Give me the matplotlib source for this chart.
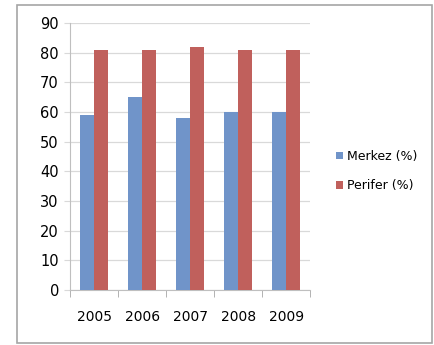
import matplotlib.pyplot as plt
import numpy as np
from matplotlib.patches import Rectangle

years = ["2005", "2006", "2007", "2008", "2009"]
merkez = [59, 65, 58, 60, 60]
perifer = [81, 81, 82, 81, 81]

blue = "#7094C9"
red = "#C0605C"
grid_col = "#D9D9D9"

fig = plt.figure(figsize=(4.35, 3.45), dpi=100)
ax = fig.add_axes([0.161, 0.159, 0.552, 0.774])

# outer chart border
fig.patches.append(Rectangle((17 / 435, 2 / 345), 415 / 435, 338 / 345,
                             transform=fig.transFigure, fill=False,
                             edgecolor="#A6A6A6", linewidth=1.2))

x = np.arange(len(years))
w = 0.29
ax.bar(x - w / 2, merkez, w, color=blue, label="Merkez (%)", zorder=3)
ax.bar(x + w / 2, perifer, w, color=red, label="Perifer (%)", zorder=3)

ax.set_xlim(-0.5, len(years) - 0.5)
ax.set_ylim(0, 90)
ax.set_yticks(range(0, 91, 10))
ax.yaxis.grid(True, color=grid_col, linewidth=0.9, zorder=0)
ax.set_axisbelow(True)

ax.set_xticks(x)
ax.set_xticklabels(years)
ax.set_xticks(np.arange(-0.5, len(years)), minor=True)
ax.tick_params(axis="x", which="major", length=0, pad=14, labelsize=10)
ax.tick_params(axis="x", which="minor", length=5, color="#A6A6A6")
ax.tick_params(axis="y", length=4, color=grid_col, labelsize=10.5, pad=4)

for side in ["top", "right"]:
    ax.spines[side].set_visible(False)
for side in ["left", "bottom"]:
    ax.spines[side].set_color("#BFBFBF")

ax.legend(loc="center left", bbox_to_anchor=(1.06, 0.446), frameon=False,
          handlelength=0.6, handleheight=0.6, handletextpad=0.3,
          labelspacing=1.3, fontsize=9)

fig.savefig("out.png", dpi=100)
